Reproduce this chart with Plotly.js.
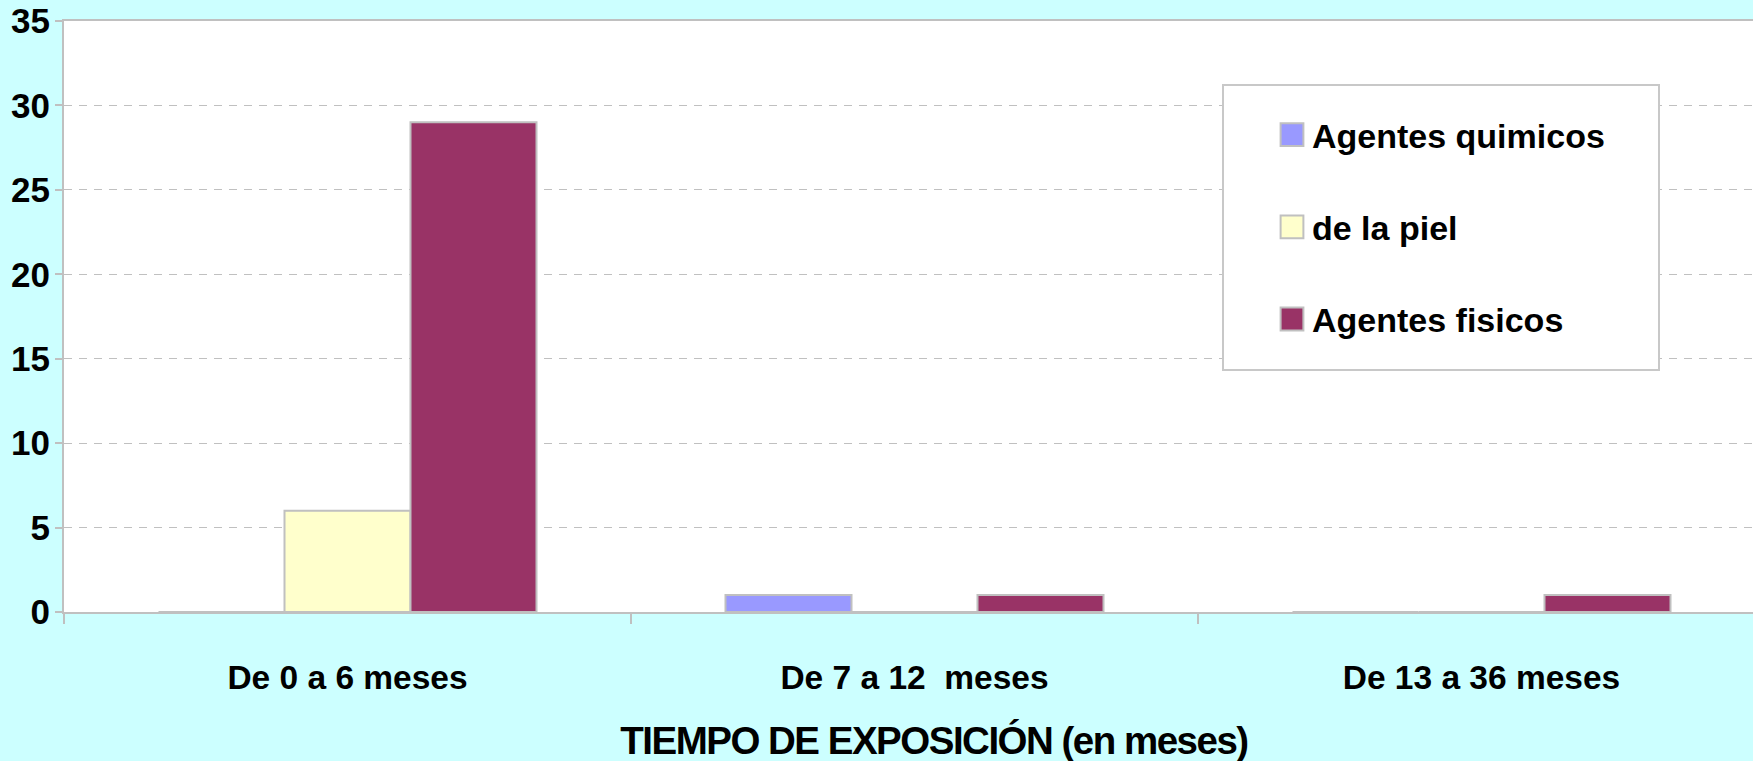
<!DOCTYPE html>
<html>
<head>
<meta charset="utf-8">
<script src="https://cdn.plot.ly/plotly-3.0.1.min.js"></script>
<style>
  html, body { margin: 0; padding: 0; background: #ccffff; }
  #chart { width: 1753px; height: 761px; }
  #chart .annotation text { letter-spacing: -1.5px; }
</style>
</head>
<body>
<div id="chart"></div>
<script>
const categories = ['De 0 a 6 meses', 'De 7 a 12  meses', 'De 13 a 36 meses'];
const seriesNames = ['Agentes quimicos', 'de la piel', 'Agentes fisicos'];
const quimicos = [0, 1, 0];
const piel = [6, 0, 0];
const fisicos = [29, 1, 1];
const xTitle = 'TIEMPO DE EXPOSICIÓN (en meses)';

const colors = ['#9999ff', '#ffffcc', '#993366'];
const FONT = 'Liberation Sans, Arial, sans-serif';
const values = [quimicos, piel, fisicos];

const traces = values.map((v, i) => ({
  type: 'bar',
  name: seriesNames[i],
  x: categories,
  y: v,
  legendgroup: 'g' + i,
  marker: { color: colors[i], line: { color: '#c0c0c0', width: 2 } },
  hoverinfo: 'none'
}));

// pixel geometry helpers (plot area: x 64..1753, y 21..612)
const L = 64, T = 21, B = 612, W = 1753 - 64, H = 612 - 21;
const px = x => (x - L) / W;
const py = y => (B - y) / H;

const layout = {
  width: 1753,
  height: 761,
  paper_bgcolor: '#ccffff',
  plot_bgcolor: '#ffffff',
  margin: { l: L, r: 0, t: T, b: 761 - B, pad: 0 },
  barmode: 'group',
  bargap: 1 / 3,
  bargroupgap: 0,
  showlegend: true,
  font: { family: FONT, weight: 'bold', color: '#000000' },
  xaxis: {
    type: 'category',
    range: [-0.5, -0.5 + W / 567],
    showline: true,
    mirror: true,
    linecolor: '#c0c0c0',
    linewidth: 2,
    ticks: 'outside',
    tickson: 'boundaries',
    ticklen: 10,
    tickwidth: 2,
    tickcolor: '#c0c0c0',
    showgrid: false,
    ticklabelstandoff: 35,
    tickfont: { family: FONT, size: 33.5, weight: 'bold', color: '#000' },
    automargin: false,
    fixedrange: true
  },
  yaxis: {
    range: [0, 35],
    dtick: 5,
    tick0: 0,
    showline: true,
    linecolor: '#c0c0c0',
    linewidth: 2,
    ticks: 'outside',
    ticklen: 7,
    tickwidth: 2,
    tickcolor: '#c0c0c0',
    showgrid: true,
    gridcolor: '#c0c0c0',
    gridwidth: 1,
    griddash: '8px,7px',
    zeroline: false,
    ticklabelstandoff: -2,
    tickfont: { family: FONT, size: 35, weight: 'bold', color: '#000' },
    automargin: false,
    fixedrange: true
  },
  legend: {
    x: px(1272),
    y: py(106),
    xanchor: 'left',
    yanchor: 'top',
    bgcolor: 'rgba(0,0,0,0)',
    borderwidth: 0,
    tracegroupgap: 45,
    traceorder: 'grouped',
    font: { family: FONT, size: 34, weight: 'bold', color: '#000' }
  },
  annotations: [{
    text: xTitle,
    xref: 'paper', yref: 'paper',
    x: px(934), y: py(740),
    xanchor: 'center', yanchor: 'middle',
    showarrow: false,
    font: { family: FONT, size: 38.5, weight: 'bold', color: '#000' }
  }],
  shapes: [{
    type: 'rect', xref: 'paper', yref: 'paper', layer: 'above',
    x0: px(1223), x1: px(1659), y0: py(370), y1: py(85),
    fillcolor: '#ffffff', line: { color: '#c8c8c8', width: 2 }
  }]
};

Plotly.newPlot('chart', traces, layout, { displayModeBar: false, staticPlot: true }).then(gd => {
  // Enlarge legend swatches to the reference square size (about 23px), keeping their position
  gd.querySelectorAll('.legendpoints path').forEach(p => {
    const t = p.getAttribute('transform') || '';
    p.setAttribute('transform', t + ' scale(1.9)');
    p.style.strokeWidth = '1.05px';
  });
});
</script>
</body>
</html>
